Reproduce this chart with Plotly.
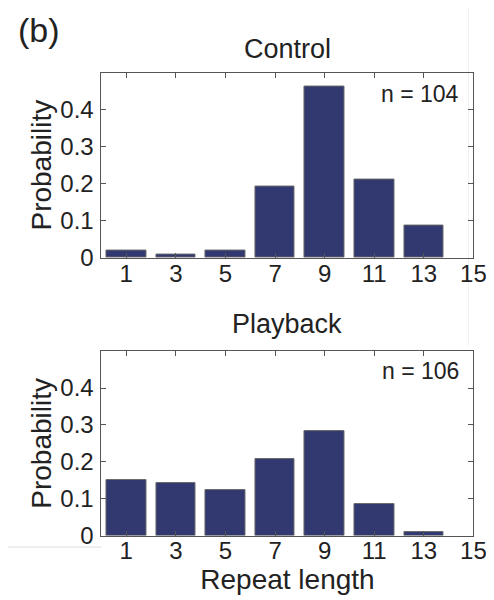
import plotly.graph_objects as go

repeat_length = [1, 3, 5, 7, 9, 11, 13]
control_prob = [0.019, 0.0096, 0.019, 0.192, 0.462, 0.212, 0.087]
playback_prob = [0.151, 0.142, 0.123, 0.208, 0.283, 0.085, 0.0094]
x_ticks = [1, 3, 5, 7, 9, 11, 13, 15]
y_ticks = [0, 0.1, 0.2, 0.3, 0.4]
y_tick_text = ["0", "0.1", "0.2", "0.3", "0.4"]
titles = ["Control", "Playback"]
n_labels = ["n = 104", "n = 106"]

W, H = 494, 600
FONT = "Liberation Sans, Arial, sans-serif"
BAR = "#323870"
AX = "#555555"
TXT = "#222222"

fig = go.Figure()
fig.add_trace(go.Bar(x=repeat_length, y=control_prob, width=1.6,
                     marker=dict(color=BAR, line=dict(color="#666666", width=1)),
                     xaxis="x", yaxis="y", showlegend=False))
fig.add_trace(go.Bar(x=repeat_length, y=playback_prob, width=1.6,
                     marker=dict(color=BAR, line=dict(color="#666666", width=1)),
                     xaxis="x2", yaxis="y2", showlegend=False))

xdom = [96 / W, 478 / W]
ydom1 = [1 - 255.3 / H, 1 - 66 / H]
ydom2 = [1 - 539.3 / H, 1 - 350.7 / H]

axcommon = dict(showline=True, linecolor=AX, linewidth=1, mirror="ticks",
                ticks="inside", ticklen=5, tickcolor=AX, showgrid=False,
                zeroline=False, tickfont=dict(family=FONT, size=24, color=TXT))

fig.update_layout(
    width=W, height=H, margin=dict(l=0, r=0, t=0, b=0),
    paper_bgcolor="white", plot_bgcolor="white", bargap=0,
    xaxis=dict(domain=xdom, range=[0, 15], tickvals=x_ticks, anchor="y", ticklabelstandoff=-6, **axcommon),
    yaxis=dict(domain=ydom1, range=[0, 0.5], tickvals=y_ticks, ticktext=y_tick_text,
               anchor="x", ticklabelstandoff=2,
               title=dict(text="Probability", font=dict(family=FONT, size=28, color=TXT), standoff=0),
               **axcommon),
    xaxis2=dict(domain=xdom, range=[0, 15], tickvals=x_ticks, anchor="y2", ticklabelstandoff=-6,
                title=dict(text="Repeat length", font=dict(family=FONT, size=28, color=TXT), standoff=4),
                **axcommon),
    yaxis2=dict(domain=ydom2, range=[0, 0.5], tickvals=y_ticks, ticktext=y_tick_text,
                anchor="x2", ticklabelstandoff=2,
                title=dict(text="Probability", font=dict(family=FONT, size=28, color=TXT), standoff=0),
                **axcommon),
    shapes=[
        dict(type="line", xref="paper", yref="paper", x0=0, x1=96 / W,
             y0=1 - 551 / H, y1=1 - 551 / H, line=dict(color="#dddddd", width=1), layer="below"),
        dict(type="line", xref="paper", yref="paper", x0=473 / W, x1=473 / W,
             y0=1 - 345 / H, y1=1, line=dict(color="#f0f0f0", width=1), layer="below"),
    ],
)

ann = []
ann.append(dict(text="(b)", x=8 / W, y=1 - 22 / H, xref="paper", yref="paper",
                xanchor="left", yanchor="middle", showarrow=False,
                font=dict(family=FONT, size=34, color=TXT)))
for t, yc in zip(titles, [42, 323]):
    ann.append(dict(text=t, x=287 / W, y=1 - yc / H, xref="paper", yref="paper",
                    xanchor="center", yanchor="middle", showarrow=False,
                    font=dict(family=FONT, size=27, color=TXT)))
for t, yc in zip(n_labels, [88, 371]):
    ann.append(dict(text=t, x=465 / W, y=1 - yc / H, xref="paper", yref="paper",
                    xanchor="right", yanchor="middle", showarrow=False,
                    font=dict(family=FONT, size=23, color=TXT)))
fig.update_layout(annotations=ann)

fig.write_html("out.html")
